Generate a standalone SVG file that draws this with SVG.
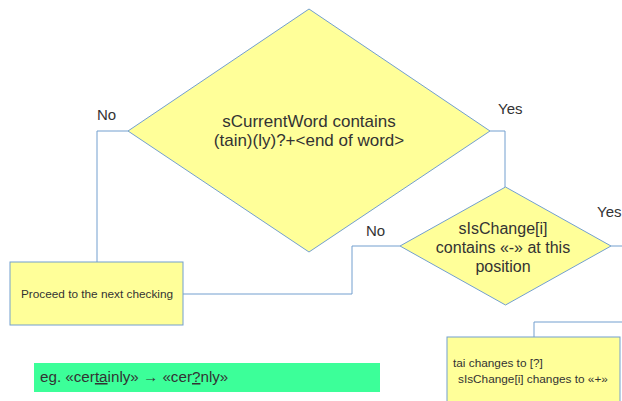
<svg xmlns="http://www.w3.org/2000/svg" width="622" height="401" viewBox="0 0 622 401">
<style>
.node{fill:#ffff99;stroke:#729fcf;stroke-width:1}
.conn{fill:none;stroke:#729fcf;stroke-width:1}
text{font-family:"Liberation Sans",Arial,sans-serif;fill:#333333}
.big{font-size:17px;text-anchor:middle}
.mid{font-size:16px;text-anchor:middle}
.lbl{font-size:15px}
.sm{font-size:11.8px}
</style>
<rect width="622" height="401" fill="#ffffff"/>
<g id="connectors">
<polyline class="conn" points="128,131 97,131 97,262"/>
<polyline class="conn" points="490,131 505,131 505,187"/>
<polyline class="conn" points="400,246 352,246 352,294 183,294"/>
<polyline class="conn" points="611,246 622,246"/>
<polyline class="conn" points="622,322 534,322 534,337"/>
</g>
<g id="labels">
<text class="lbl" x="97" y="120">No</text>
<text class="lbl" x="498" y="114">Yes</text>
<text class="lbl" x="366" y="236">No</text>
<text class="lbl" x="597" y="217">Yes</text>
</g>
<g id="decision1">
<polygon class="node" points="309,9 490,131 309,252 128,131"/>
<text class="big" x="309" y="127">sCurrentWord contains</text>
<text class="big" x="309" y="146">(tain)(ly)?+&lt;end of word&gt;</text>
</g>
<g id="decision2">
<polygon class="node" points="505.5,187 611,246 505.5,305 400,246"/>
<text class="mid" x="503" y="234">sIsChange[i]</text>
<text class="mid" x="503" y="253">contains «-» at this</text>
<text class="mid" x="503" y="272">position</text>
</g>
<g id="proceed">
<rect class="node" x="10" y="262" width="173" height="63"/>
<text class="sm" x="97" y="298" text-anchor="middle">Proceed to the next checking</text>
</g>
<g id="change">
<rect class="node" x="447" y="337" width="173" height="70"/>
<text class="sm" x="453" y="367">tai changes to [?]</text>
<text class="sm" x="458" y="383">sIsChange[i] changes to «+»</text>
</g>
<g id="example">
<rect x="34" y="363" width="346" height="29" fill="#3cff99"/>
<text x="40" y="382" style="font-size:15.2px">eg. «cer<tspan text-decoration="underline">ta</tspan>inly» → «cer<tspan text-decoration="underline">?</tspan>nly»</text>
</g>
</svg>
